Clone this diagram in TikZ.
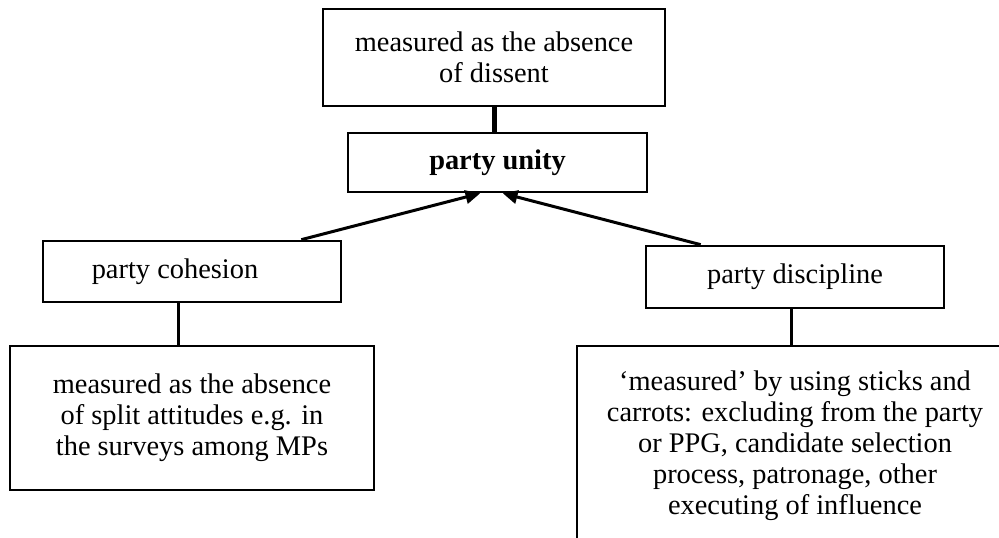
\documentclass[tikz,border=0pt]{standalone}
\usepackage{fontspec}
\setmainfont{Liberation Serif}
\usetikzlibrary{arrows.meta}

\tikzset{every picture/.style={line width=0.75pt}}
\tikzset{
  boxnode/.style={draw, rectangle, line width=2pt, inner sep=0pt, align=center,
    font=\fontsize{21.3}{23.25}\selectfont},
  linkline/.style={line width=2.25pt},
  thicklink/.style={line width=3.75pt},
  unityarrow/.style={line width=2.25pt, -{Triangle[length=11pt,width=10pt]}},
}

\begin{document}
\begin{tikzpicture}[x=0.75pt,y=0.75pt,yscale=-1,xscale=1]
	\useasboundingbox (0,0) rectangle (999,538);

	%Shape: Rectangle
	\node [boxnode, minimum width=256.5pt, minimum height=72.75pt] (dissent) at (494,57.5) {measured as the absence\\of dissent};
	%Shape: Rectangle
	\node [boxnode, minimum width=224.25pt, minimum height=44.25pt, font=\fontsize{21.3}{23.25}\selectfont\bfseries] (unity) at (497.5,162.5) {party unity};
	%Shape: Rectangle
	\node [boxnode, minimum width=223.5pt, minimum height=45.75pt] (cohesion) at (192,271.5) {party cohesion\hspace{25.5pt}};
	%Shape: Rectangle
	\node [boxnode, minimum width=223.5pt, minimum height=46.5pt] (discipline) at (795,277) {party discipline};
	%Shape: Rectangle
	\node [boxnode, minimum width=273pt, minimum height=108pt] (meascohesion) at (192,418) {measured as the absence\\of split attitudes e.g. in\\the surveys among MPs};
	%Shape: Rectangle
	\node [boxnode, minimum width=327pt, minimum height=149.25pt] (measdiscipline) at (795,445.5) {`measured' by using sticks and\\carrots: excluding from the party\\or PPG, candidate selection\\process, patronage, other\\executing of influence};

	%Straight Lines
	\draw [thicklink] (dissent.south) -- (dissent.south |- unity.north);
	%Straight Lines
	\draw [unityarrow] ([xshift=-30.75pt]cohesion.north east) -- ([xshift=-13pt]unity.south);
	%Straight Lines
	\draw [unityarrow] ([xshift=42pt]discipline.north west) -- ([xshift=4pt]unity.south);
	%Straight Lines
	\draw [linkline] ([xshift=-10.5pt]cohesion.south) -- ([xshift=-10.5pt]meascohesion.north);
	%Straight Lines
	\draw [linkline] ([xshift=-3pt]discipline.south) -- ([xshift=-3pt]measdiscipline.north);

\end{tikzpicture}
\end{document}
